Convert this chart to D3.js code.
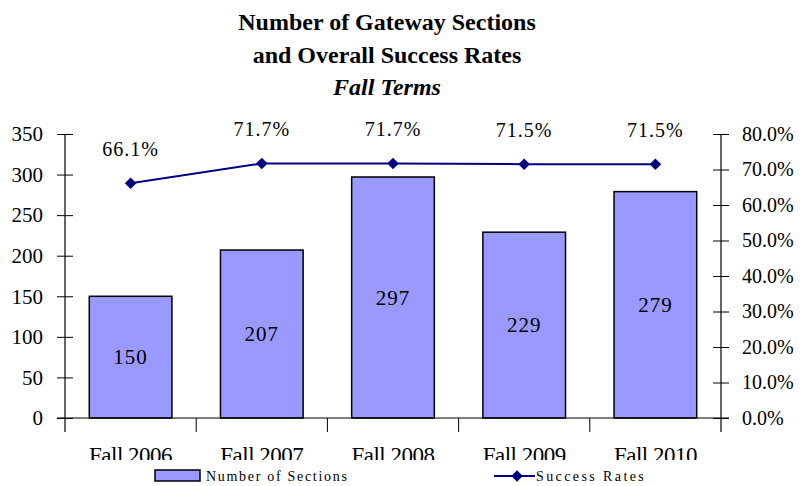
<!DOCTYPE html>
<html>
<head>
<meta charset="utf-8">
<script src="https://cdn.jsdelivr.net/npm/d3@7"></script>
<style>
  body { margin: 0; background: #fff; }
  svg { display: block; font-family: "Liberation Serif", "DejaVu Serif", serif; }
</style>
</head>
<body>
<div id="chart"></div>
<script>
// data
const terms = ["Fall 2006", "Fall 2007", "Fall 2008", "Fall 2009", "Fall 2010"];
const sections = [150, 207, 297, 229, 279];
const successRates = [0.661, 0.717, 0.717, 0.715, 0.715];
const leftTicks = [0, 50, 100, 150, 200, 250, 300, 350];
const rightTicks = [0, 0.1, 0.2, 0.3, 0.4, 0.5, 0.6, 0.7, 0.8];

// dimensions
const W = 801, H = 486;
const MARGIN = { top: 134, right: 80, bottom: 68, left: 65 };
const WIDTH = W - MARGIN.left - MARGIN.right;
const HEIGHT = H - MARGIN.top - MARGIN.bottom;

const barColor = "#9999ff";
const lineColor = "#000080";

const svg = d3.select("#chart").append("svg")
    .attr("width", W)
    .attr("height", H);

// title
const title = svg.append("text")
    .attr("text-anchor", "middle")
    .attr("font-size", "24px")
    .attr("font-weight", "bold");
title.append("tspan").attr("x", 387).attr("y", 30).text("Number of Gateway Sections");
title.append("tspan").attr("x", 387).attr("y", 63).text("and Overall Success Rates");
title.append("tspan").attr("x", 387).attr("y", 95).attr("font-style", "italic").text("Fall Terms");

const g = svg.append("g")
    .attr("transform", `translate(${MARGIN.left},${MARGIN.top})`);

// scales
const x = d3.scaleBand().domain(terms).range([0, WIDTH]).paddingInner(0.37).paddingOuter(0.185);
const xOuter = d3.scaleBand().domain(terms).range([0, WIDTH]);
const yLeft = d3.scaleLinear().domain([0, 350]).range([HEIGHT, 0]);
const yRight = d3.scaleLinear().domain([0, 0.8]).range([HEIGHT, 0]);

// bars
g.selectAll(".bar")
    .data(sections)
    .enter().append("rect")
    .attr("class", "bar")
    .attr("x", (d, i) => x(terms[i]))
    .attr("y", d => yLeft(d))
    .attr("width", x.bandwidth())
    .attr("height", d => HEIGHT - yLeft(d))
    .attr("fill", barColor)
    .attr("stroke", "#000")
    .attr("stroke-width", 1.5);

g.selectAll(".bar-label")
    .data(sections)
    .enter().append("text")
    .attr("class", "bar-label")
    .attr("x", (d, i) => x(terms[i]) + x.bandwidth() / 2)
    .attr("y", d => (yLeft(d) + HEIGHT) / 2)
    .attr("dy", "0.35em")
    .attr("text-anchor", "middle")
    .attr("font-size", "21px")
    .attr("letter-spacing", "1px")
    .text(d => d);

// left axis
const leftAxis = g.append("g")
    .call(d3.axisLeft(yLeft).tickValues(leftTicks).tickSize(8).tickPadding(14));
leftAxis.select(".domain").attr("d", `M0,${HEIGHT + 14}V0`).attr("stroke-width", 1.2);
leftAxis.selectAll(".tick line").attr("x2", -8).attr("x1", 8);
leftAxis.selectAll(".tick text")
    .attr("font-size", "21px")
    .attr("font-family", "Liberation Serif, serif")
    .attr("fill", "#000");

// right axis
const rightAxis = g.append("g")
    .attr("transform", `translate(${WIDTH},0)`)
    .call(d3.axisRight(yRight).tickValues(rightTicks).tickFormat(d3.format(".1%")).tickSize(8).tickPadding(13));
rightAxis.select(".domain").attr("d", `M0,${HEIGHT + 14}V0`).attr("stroke-width", 1.2);
rightAxis.selectAll(".tick line").attr("x1", -8).attr("x2", 8);
rightAxis.selectAll(".tick text")
    .attr("font-size", "20px")
    .attr("font-family", "Liberation Serif, serif")
    .attr("fill", "#000");

// x axis
g.append("line")
    .attr("x1", -8).attr("x2", WIDTH + 8)
    .attr("y1", HEIGHT).attr("y2", HEIGHT)
    .attr("stroke", "#000").attr("stroke-width", 1.2);
g.selectAll(".xtick")
    .data(terms.slice(1))
    .enter().append("line")
    .attr("class", "xtick")
    .attr("x1", d => xOuter(d)).attr("x2", d => xOuter(d))
    .attr("y1", HEIGHT).attr("y2", HEIGHT + 14)
    .attr("stroke", "#000");

// clipped category labels
svg.append("clipPath").attr("id", "xclip")
    .append("rect").attr("x", 0).attr("y", 0).attr("width", W).attr("height", 460);
const xlab = svg.append("g").attr("clip-path", "url(#xclip)");
xlab.selectAll(".xlab")
    .data(terms)
    .enter().append("text")
    .attr("x", d => MARGIN.left + x(d) + x.bandwidth() / 2)
    .attr("y", 463)
    .attr("text-anchor", "middle")
    .attr("font-size", "23px")
    .attr("letter-spacing", "-0.5px")
    .text(d => d);

// success rate line
const line = d3.line()
    .x((d, i) => xOuter(terms[i]) + xOuter.bandwidth() / 2)
    .y(d => yRight(d));
g.append("path")
    .datum(successRates)
    .attr("d", line)
    .attr("fill", "none")
    .attr("stroke", lineColor)
    .attr("stroke-width", 2);

const diamond = d3.symbol().type(d3.symbolDiamond2).size(85);
g.selectAll(".marker")
    .data(successRates)
    .enter().append("path")
    .attr("class", "marker")
    .attr("d", diamond)
    .attr("transform", (d, i) => `translate(${xOuter(terms[i]) + xOuter.bandwidth() / 2},${yRight(d)})`)
    .attr("fill", lineColor);

g.selectAll(".rate-label")
    .data(successRates)
    .enter().append("text")
    .attr("class", "rate-label")
    .attr("x", (d, i) => xOuter(terms[i]) + xOuter.bandwidth() / 2)
    .attr("y", d => yRight(d) - 34)
    .attr("dy", "0.35em")
    .attr("text-anchor", "middle")
    .attr("font-size", "20px")
    .attr("letter-spacing", "1px")
    .text(d => d3.format(".1%")(d));

// legend
const legend = svg.append("g");
legend.append("rect")
    .attr("x", 155).attr("y", 470).attr("width", 45).attr("height", 11)
    .attr("fill", barColor).attr("stroke", "#000").attr("stroke-width", 1.5);
legend.append("text")
    .attr("x", 206).attr("y", 481)
    .attr("font-size", "14px")
    .attr("letter-spacing", "1.7px")
    .text("Number of  Sections");
legend.append("line")
    .attr("x1", 494).attr("x2", 535).attr("y1", 476).attr("y2", 476)
    .attr("stroke", lineColor).attr("stroke-width", 2);
legend.append("path")
    .attr("d", diamond)
    .attr("transform", "translate(517,476)")
    .attr("fill", lineColor);
legend.append("text")
    .attr("x", 536).attr("y", 481)
    .attr("font-size", "14px")
    .attr("letter-spacing", "2.4px")
    .text("Success Rates");
</script>
</body>
</html>
